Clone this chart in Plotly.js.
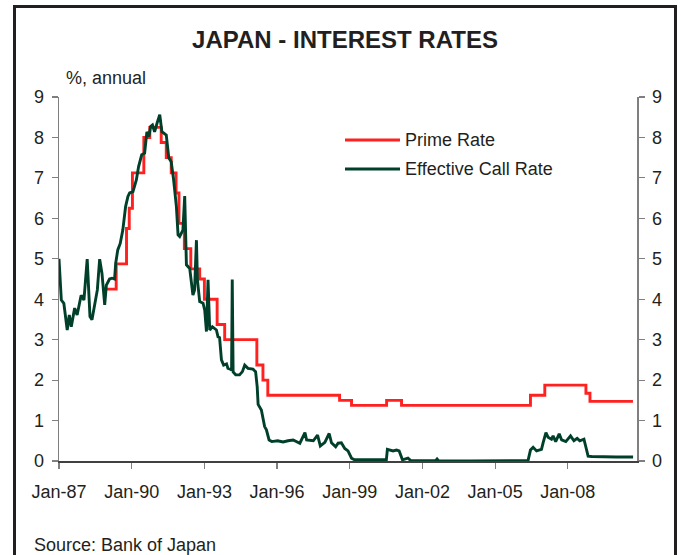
<!DOCTYPE html>
<html>
<head>
<meta charset="utf-8">
<script src="https://cdn.plot.ly/plotly-3.0.1.min.js"></script>
<style>html,body{margin:0;padding:0;background:#fff;}#chart{width:681px;height:555px;}</style>
</head>
<body>
<div id="chart"></div>
<script>
// ---- data ----
const primeDates = ['1988-12-15','1989-05-12','1989-10-15','1989-11-25','1990-01-12','1990-07-03','1990-10-01','1991-03-22','1991-06-06','1991-08-20','1991-11-01','1991-12-15','1992-03-05','1992-06-10','1992-10-22','1993-01-01','1993-07-12','1993-11-03','1995-03-03','1995-06-03','1995-08-15','1998-08-01','1999-01-28','2000-07-10','2001-02-20','2006-06-18','2007-01-20','2008-10-01','2008-12-01','2010-09-10'];
const primeRates = [4.25,4.875,5.75,6.25,7.125,8.0,8.25,7.875,7.5,7.125,6.625,5.875,5.25,4.75,4.5,4.0,3.375,3.0,2.375,2.0,1.625,1.5,1.375,1.5,1.375,1.625,1.875,1.675,1.475,1.475];

const callDates = ['1987-01-01','1987-02-05','1987-03-15','1987-05-05','1987-06-05','1987-07-05','1987-08-25','1987-10-01','1987-12-01','1988-01-12','1988-03-01','1988-04-12','1988-05-12','1988-06-20','1988-08-01','1988-09-05','1988-10-10','1988-11-20','1988-12-15','1989-02-01','1989-03-10','1989-04-18','1989-05-05','1989-06-05','1989-07-12','1989-08-20','1989-10-01','1989-11-05','1989-12-01','1990-01-20','1990-03-12','1990-04-15','1990-06-01','1990-07-15','1990-08-18','1990-09-18','1990-10-12','1990-11-10','1990-12-12','1991-01-18','1991-02-28','1991-04-01','1991-05-12','1991-06-06','1991-07-15','1991-08-20','1991-09-25','1991-11-06','1991-12-01','1991-12-25','1992-02-12','1992-03-10','1992-04-05','1992-05-25','1992-07-12','1992-08-06','1992-09-03','1992-09-18','1992-10-22','1992-12-12','1993-01-06','1993-02-01','1993-02-25','1993-03-22','1993-05-01','1993-07-01','1993-07-25','1993-08-18','1993-09-15','1993-10-18','1993-12-01','1993-12-22','1994-01-28','1994-02-15','1994-02-25','1994-03-10','1994-04-18','1994-06-15','1994-07-28','1994-09-01','1994-10-20','1995-01-03','1995-02-12','1995-03-08','1995-03-22','1995-05-10','1995-06-28','1995-07-25','1995-09-03','1995-10-15','1996-01-10','1996-04-01','1996-06-15','1996-09-01','1996-12-10','1997-02-25','1997-03-22','1997-07-01','1997-09-03','1997-10-15','1997-12-22','1998-02-25','1998-04-01','1998-06-03','1998-07-10','1998-08-28','1998-10-18','1998-12-06','1999-01-28','1999-03-15','1999-08-01','2000-01-01','2000-07-06','2000-07-22','2000-10-15','2000-12-06','2001-01-15','2001-03-06','2001-05-28','2001-07-10','2002-07-20','2002-08-10','2002-09-01','2004-01-01','2006-05-12','2006-06-18','2006-07-28','2006-09-18','2006-12-01','2006-12-25','2007-02-06','2007-03-10','2007-05-01','2007-05-25','2007-07-03','2007-08-25','2007-10-01','2007-12-03','2008-02-12','2008-04-03','2008-05-22','2008-07-01','2008-09-01','2008-10-01','2008-11-03','2008-12-25','2009-06-01','2010-01-01','2010-09-12'];
const callRates = [5.0,3.98,3.9,3.24,3.61,3.32,3.78,3.61,4.1,3.98,4.99,3.57,3.49,3.82,4.23,4.99,4.64,3.86,4.35,4.5,4.52,4.5,4.89,5.22,5.38,5.71,6.29,6.54,6.63,6.66,6.95,7.28,7.57,7.61,8.14,8.02,8.27,8.31,8.14,8.35,8.56,8.14,8.1,8.06,7.49,7.4,6.95,6.29,5.59,5.55,5.71,6.55,4.85,4.76,4.1,4.23,5.46,4.48,3.94,3.9,3.73,3.2,4.48,3.24,3.32,3.24,3.07,3.05,2.5,2.37,2.4,2.29,2.27,2.25,4.49,2.2,2.13,2.13,2.21,2.37,2.29,2.27,2.21,1.84,1.4,1.26,0.85,0.77,0.52,0.48,0.5,0.47,0.5,0.52,0.44,0.7,0.52,0.5,0.64,0.37,0.46,0.68,0.45,0.35,0.44,0.45,0.31,0.25,0.07,0.03,0.03,0.03,0.03,0.29,0.25,0.27,0.25,0.03,0.07,0.01,0.01,0.05,0.01,0.002,0.01,0.27,0.34,0.25,0.29,0.45,0.7,0.59,0.54,0.62,0.48,0.67,0.52,0.48,0.62,0.5,0.56,0.5,0.54,0.34,0.12,0.11,0.1,0.1,0.1];

const xTickDates = ['1987-01-01','1990-01-01','1993-01-01','1996-01-01','1999-01-01','2002-01-01','2005-01-01','2008-01-01'];
const xTickText = ['Jan-87','Jan-90','Jan-93','Jan-96','Jan-99','Jan-02','Jan-05','Jan-08'];
const yTicks = [0,1,2,3,4,5,6,7,8,9];
const seriesNames = ['Prime Rate','Effective Call Rate'];
const titleText = 'JAPAN - INTEREST RATES';
const unitText = '%, annual';
const sourceText = 'Source: Bank of Japan';

// ---- geometry helpers ----
const W = 681, H = 555, ML = 59, MR = 44, MT = 97, MB = 94;
const PW = W - ML - MR, PH = H - MT - MB;
const px = x => (x - ML) / PW;
const py = y => (H - MB - y) / PH;

const RED = '#ff2020', GREEN = '#00402a', TXT = '#231f20', AX = '#7f7f7f';
const FONT = 'Arial, "Liberation Sans", sans-serif';
const LW = 2.9;

const traces = [
  {x: primeDates, y: primeRates, type: 'scatter', mode: 'lines', name: seriesNames[0],
   line: {color: RED, width: LW, shape: 'hv'}, xaxis: 'x', yaxis: 'y', showlegend: false, hoverinfo: 'skip'},
  {x: callDates, y: callRates, type: 'scatter', mode: 'lines', name: seriesNames[1],
   line: {color: GREEN, width: LW}, xaxis: 'x', yaxis: 'y2', showlegend: false, hoverinfo: 'skip'}
];

const yBase = {range: [0, 9], tickvals: yTicks, ticks: 'outside', ticklen: 6, tickcolor: AX, tickwidth: 1.2,
  showline: true, linecolor: AX, linewidth: 1.5, showgrid: false, zeroline: false, fixedrange: true,
  tickfont: {family: FONT, size: 18, color: TXT}};

const layout = {
  width: W, height: H, margin: {l: ML, r: MR, t: MT, b: MB, pad: 0},
  paper_bgcolor: '#fff', plot_bgcolor: '#fff',
  font: {family: FONT, color: TXT},
  title: {text: '<b>' + titleText + '</b>', x: 345 / W, xanchor: 'center', y: 1 - 40 / H, yanchor: 'middle',
    font: {family: FONT, size: 24, color: TXT}},
  xaxis: {type: 'date', range: ['1987-01-01', '2010-11-10'], tickvals: xTickDates, ticktext: xTickText,
    ticks: 'outside', ticklen: 6, tickcolor: AX, tickwidth: 1.2, showline: true, linecolor: '#404040', linewidth: 1.5,
    showgrid: false, zeroline: false, fixedrange: true, ticklabelstandoff: 8,
    tickfont: {family: FONT, size: 18, color: TXT}},
  yaxis: Object.assign({}, yBase, {side: 'left', ticklabelstandoff: 4}),
  yaxis2: Object.assign({}, yBase, {side: 'right', overlaying: 'y', ticklabelstandoff: 4}),
  showlegend: false,
  shapes: [
    {type: 'rect', xref: 'paper', yref: 'paper', x0: px(14.5), x1: px(675.5), y0: py(6.5), y1: py(562),
     line: {color: TXT, width: 3}, fillcolor: 'rgba(0,0,0,0)'},
    {type: 'line', xref: 'paper', yref: 'paper', x0: px(345), x1: px(400), y0: py(140), y1: py(140),
     line: {color: RED, width: LW}},
    {type: 'line', xref: 'paper', yref: 'paper', x0: px(345), x1: px(400), y0: py(169), y1: py(169),
     line: {color: GREEN, width: LW}}
  ],
  annotations: [
    {text: seriesNames[0], xref: 'paper', yref: 'paper', x: px(403), y: py(140), xanchor: 'left', yanchor: 'middle',
     showarrow: false, font: {family: FONT, size: 18, color: TXT}},
    {text: seriesNames[1], xref: 'paper', yref: 'paper', x: px(403), y: py(169), xanchor: 'left', yanchor: 'middle',
     showarrow: false, font: {family: FONT, size: 18, color: TXT}},
    {text: unitText, xref: 'paper', yref: 'paper', x: px(64), y: py(78), xanchor: 'left', yanchor: 'middle',
     showarrow: false, font: {family: FONT, size: 18, color: TXT}},
    {text: sourceText, xref: 'paper', yref: 'paper', x: px(32), y: py(545), xanchor: 'left', yanchor: 'middle',
     showarrow: false, font: {family: FONT, size: 18, color: TXT}}
  ]
};

Plotly.newPlot('chart', traces, layout, {displayModeBar: false, staticPlot: true});
</script>
</body>
</html>
